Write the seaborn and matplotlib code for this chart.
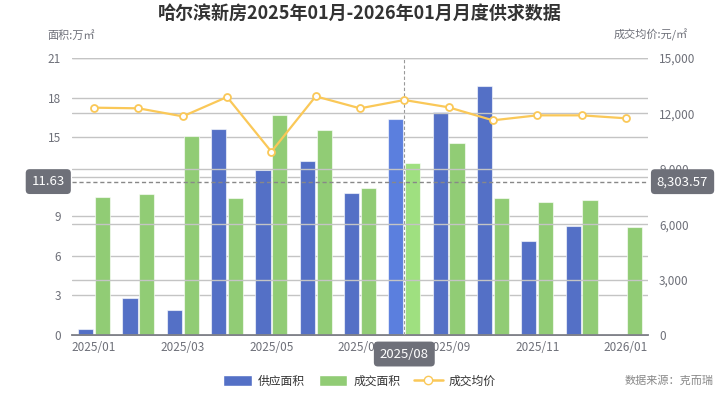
import numpy as np
import pandas as pd
import matplotlib
matplotlib.use('Agg')
import matplotlib.pyplot as plt
import seaborn as sns
from matplotlib.patches import Patch
from matplotlib.lines import Line2D
from matplotlib.ticker import FuncFormatter

sns.set_theme(style='white')
plt.rcParams['font.family'] = ['Noto Sans CJK SC', 'DejaVu Sans']

months = ['2025/01', '2025/02', '2025/03', '2025/04', '2025/05', '2025/06', '2025/07',
          '2025/08', '2025/09', '2025/10', '2025/11', '2025/12', '2026/01']
supply = [0.42, 2.82, 1.88, 15.64, 12.48, 13.17, 10.74, 16.4, 16.88, 18.9, 7.14, 8.3, 0]
deal = [10.5, 10.67, 15.09, 10.4, 16.65, 15.52, 11.17, 13.04, 14.55, 10.35, 10.12, 10.2, 8.15]
price = [12310, 12275, 11840, 12888, 9926, 12925, 12275, 12725, 12330, 11625, 11895, 11895, 11735]

hover_month = '2025/08'
pointer_area = 11.63
pointer_price = 8303.57

BLUE = '#5470c6'
GREEN = '#91cc75'
YELLOW = '#fac858'
GREY = '#6e7079'
GRID = '#c4c4c4'

df = pd.DataFrame({'month': months * 2,
                   'value': supply + deal,
                   'kind': ['供应面积'] * len(months) + ['成交面积'] * len(months)})

fig = plt.figure(figsize=(7.19, 3.95), dpi=100)
ax = fig.add_axes([72 / 719, 60 / 395, 576 / 719, 277 / 395])

sns.barplot(data=df, x='month', y='value', hue='kind', palette=[BLUE, GREEN],
            width=0.76, gap=0.1, ax=ax, legend=False, saturation=1,
            edgecolor=(1, 1, 1, 0.6), linewidth=0.8)

# hover emphasis on Aug
hi = months.index(hover_month)
n = len(months)
for i, p in enumerate(ax.patches[:2 * n]):
    if i % n == hi:
        p.set_facecolor('#5b7fde' if i < n else '#9fe080')

ax.set_ylim(0, 21)
ax.set_yticks(np.arange(0, 22, 3))
ax.set_xlim(-0.5, n - 0.5)
ax.set_xlabel('')
ax.set_ylabel('')
ax.grid(axis='y', color=GRID, lw=1)
ax.set_axisbelow(True)
for s in ['left', 'right', 'top']:
    ax.spines[s].set_visible(False)
ax.spines['bottom'].set_color(GREY)
ax.tick_params(axis='y', length=0, labelcolor=GREY, labelsize=8.5, pad=8)

ax.set_xticks(range(0, n, 2))
ax.set_xticklabels(months[::2])
ax.tick_params(axis='x', length=0, labelcolor=GREY, labelsize=8.5, pad=4)
ax.set_xticks(list(np.arange(-0.5, n, 2)) + [n - 0.5], minor=True)
ax.tick_params(axis='x', which='minor', length=5, color=GREY)

ax2 = ax.twinx()
sns.lineplot(x=range(n), y=price, ax=ax2, color=YELLOW, lw=1.6, marker='o',
             markersize=5, markerfacecolor='white', markeredgecolor=YELLOW,
             markeredgewidth=1.3, zorder=5)
ax2.set_ylim(0, 15000)
ax2.set_yticks(np.arange(0, 15001, 3000))
ax2.yaxis.set_major_formatter(FuncFormatter(lambda v, _: f'{int(v):,}'))
ax2.grid(axis='y', color=GRID, lw=1)
ax2.set_axisbelow(True)
for s in ['left', 'right', 'top', 'bottom']:
    ax2.spines[s].set_visible(False)
ax2.tick_params(axis='y', length=0, labelcolor=GREY, labelsize=8.5, pad=8)
ax2.set_ylabel('')

# crosshair
ax.axhline(pointer_area, color='#888888', lw=1, ls=(0, (3, 2)), zorder=6)
ax.axvline(hi, color='#999999', lw=0.8, ls=(0, (3, 2)), zorder=6)
box = dict(boxstyle='round,pad=0.45,rounding_size=0.3', fc=GREY, ec='none')
ax.text(-0.66, pointer_area, f'{pointer_area:.2f}', ha='right', va='center',
        color='white', fontsize=9.5, bbox=box, clip_on=False, zorder=10)
ax2.text(n - 0.3, pointer_price, f'{pointer_price:,.2f}', ha='left', va='center',
         color='white', fontsize=9.5, bbox=box, clip_on=False, zorder=10)
ax.text(hi, -0.95, hover_month, ha='center', va='top', color='white',
        fontsize=9.5, bbox=box, clip_on=False, zorder=10)

fig.text(0.5, 0.965, '哈尔滨新房2025年01月-2026年01月月度供求数据', ha='center',
         va='center', fontsize=13, fontweight='bold', color='#333333')
fig.text(47 / 719, 1 - 35 / 395, '面积:万㎡', ha='left', va='center', fontsize=8, color=GREY)
fig.text(688 / 719, 1 - 35 / 395, '成交均价:元/㎡', ha='right', va='center', fontsize=8, color=GREY)
fig.text(714 / 719, 1 - 381 / 395, '数据来源：克而瑞', ha='right', va='center', fontsize=8, color='#888888')

handles = [Patch(facecolor=BLUE, label='供应面积'),
           Patch(facecolor=GREEN, label='成交面积'),
           Line2D([], [], color=YELLOW, lw=1.8, marker='o', markersize=6,
                  markerfacecolor='white', markeredgecolor=YELLOW, label='成交均价')]
fig.legend(handles=handles, loc='center', bbox_to_anchor=(0.5, 1 - 381 / 395), ncol=3,
           frameon=False, fontsize=8.5, handlelength=2.4, handleheight=1.1,
           columnspacing=1.2, handletextpad=0.5, labelcolor='#333333')

fig.savefig('out.png', dpi=100)
